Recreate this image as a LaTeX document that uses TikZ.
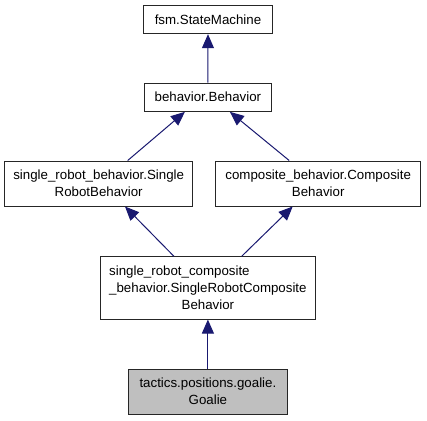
\documentclass[tikz,border=0pt]{standalone}
\usepackage{fontspec}
\setmainfont{Liberation Sans}
\usetikzlibrary{arrows.meta}
\definecolor{edgeblue}{HTML}{191970}
\definecolor{nodegray}{HTML}{BFBFBF}
\begin{document}
\begin{tikzpicture}[x=1bp,y=-1bp,
  cls/.style={draw=black!85, line width=1bp, fill=white, rectangle, inner sep=0pt,
    align=center, font=\fontsize{13.3bp}{17bp}\selectfont},
  edge/.style={draw=edgeblue, line width=1bp, {Triangle[length=14bp,width=12bp,fill=edgeblue]}-}
]
\useasboundingbox (0,0) rectangle (427,421);
\fill[white] (0,0) rectangle (427,421);
\node[cls, minimum width=128.6bp, minimum height=28.4bp] (fsm) at (208,19.5) {fsm.StateMachine};
\node[cls, minimum width=127.7bp, minimum height=28.3bp] (beh) at (207.9,97.2) {behavior.Behavior};
\node[cls, minimum width=188bp, minimum height=45bp] (srb) at (98.7,183.5) {single\_robot\_behavior.Single\\RobotBehavior};
\node[cls, minimum width=205bp, minimum height=45bp] (cb) at (318.2,183.5) {composite\_behavior.Composite\\Behavior};
\node[cls, minimum width=215.7bp, minimum height=62.3bp] (src) at (207.9,287.9) {\rlap{single\_robot\_composite}\phantom{\_behavior.SingleRobotComposite}\\\_behavior.SingleRobotComposite\\Behavior};
\node[cls, fill=nodegray, minimum width=158.3bp, minimum height=45bp] (goal) at (207.9,391.5) {tactics.positions.goalie.\\Goalie};
\draw[edge] (fsm.south) -- (beh.north);
\draw[edge] ([xshift=-23bp]beh.south) -- ([xshift=29bp]srb.north);
\draw[edge] ([xshift=22bp]beh.south) -- ([xshift=-29bp]cb.north);
\draw[edge] ([xshift=26.3bp]srb.south) -- ([xshift=-34bp]src.north);
\draw[edge] ([xshift=-25.5bp]cb.south) -- ([xshift=33.8bp]src.north);
\draw[edge] (src.south) -- (goal.north);
\end{tikzpicture}
\end{document}
